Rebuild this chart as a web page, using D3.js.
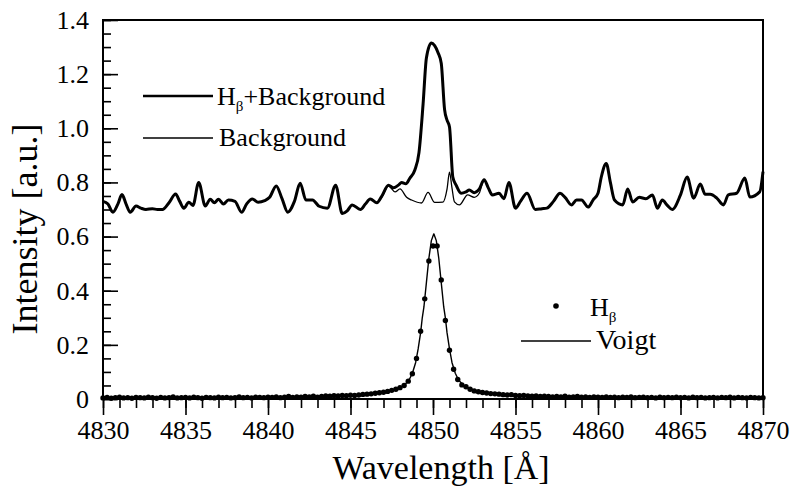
<!DOCTYPE html>
<html>
<head>
<meta charset="utf-8">
<script src="https://cdn.jsdelivr.net/npm/d3@7"></script>
<style>
    body { margin: 0; background: #fff; }
    svg text { font-family: "Liberation Serif", "Times New Roman", Times, "DejaVu Serif", serif; fill: #000; }
    .line { fill: none; stroke: #000; stroke-linejoin: round; }
</style>
</head>
<body>
<svg width="794" height="493"></svg>
<script>
    // background spectrum [wavelength, intensity]
    var background = [
        [4830.0,0.73],[4830.3,0.72],[4830.6,0.69],[4830.9,0.72],[4831.15,0.755],[4831.4,0.72],
        [4831.65,0.69],[4832.0,0.713],[4832.3,0.705],[4832.6,0.70],[4833.0,0.703],[4833.3,0.70],
        [4833.6,0.70],[4834.0,0.725],[4834.4,0.757],[4834.65,0.73],[4834.9,0.705],[4835.2,0.727],
        [4835.45,0.715],[4835.8,0.80],[4836.2,0.713],[4836.5,0.738],[4836.75,0.725],[4837.0,0.738],
        [4837.3,0.72],[4837.6,0.735],[4838.0,0.73],[4838.4,0.69],[4838.7,0.72],[4839.05,0.739],
        [4839.4,0.727],[4839.8,0.733],[4840.1,0.745],[4840.5,0.787],[4840.85,0.74],[4841.2,0.69],
        [4841.6,0.73],[4841.95,0.797],[4842.3,0.735],[4842.7,0.735],[4843.1,0.712],[4843.6,0.705],
        [4844.1,0.79],[4844.5,0.685],[4844.8,0.695],[4845.1,0.717],[4845.6,0.70],[4845.9,0.72],
        [4846.2,0.739],[4846.6,0.725],[4846.9,0.745],[4847.3,0.787],[4847.7,0.765],[4848.0,0.776],
        [4848.4,0.745],[4848.7,0.735],[4849.3,0.724],[4849.7,0.763],[4850.1,0.726],[4850.6,0.727],
        [4850.85,0.775],[4851.0,0.838],[4851.15,0.78],[4851.3,0.728],[4851.6,0.717],[4852.1,0.754],
        [4852.5,0.745],[4852.8,0.76],[4853.1,0.81],[4853.35,0.78],[4853.6,0.754],[4854.0,0.76],
        [4854.3,0.74],[4854.6,0.80],[4855.0,0.705],[4855.3,0.73],[4855.7,0.76],[4856.2,0.70],
        [4856.6,0.703],[4856.9,0.705],[4857.3,0.73],[4857.7,0.76],[4858.0,0.745],[4858.4,0.717],
        [4858.7,0.735],[4859.0,0.735],[4859.4,0.709],[4859.7,0.735],[4860.0,0.76],[4860.2,0.82],
        [4860.5,0.87],[4860.75,0.80],[4861.0,0.735],[4861.5,0.717],[4861.8,0.776],[4862.1,0.728],
        [4862.5,0.745],[4862.9,0.74],[4863.3,0.754],[4863.6,0.705],[4863.9,0.735],[4864.2,0.715],
        [4864.5,0.70],[4865.0,0.754],[4865.4,0.82],[4865.8,0.742],[4866.2,0.794],[4866.5,0.756],
        [4866.8,0.756],[4867.2,0.742],[4867.6,0.717],[4867.9,0.754],[4868.4,0.76],[4868.9,0.816],
        [4869.2,0.746],[4869.8,0.765],[4870.0,0.84]
    ];

    // H-beta + background, where it differs from the background
    var hbPeak = [
        [4846.9,0.75],[4847.3,0.79],[4847.6,0.78],[4847.9,0.79],[4848.1,0.80],[4848.35,0.795],
        [4848.6,0.816],[4848.9,0.846],[4849.15,0.91],[4849.4,1.09],[4849.6,1.26],[4849.9,1.315],
        [4850.1,1.305],[4850.3,1.28],[4850.5,1.24],[4850.7,1.07],[4850.85,1.03],[4851.0,1.005],
        [4851.2,0.82],[4851.4,0.79],[4851.7,0.76],[4852.0,0.765],[4852.2,0.772],[4852.5,0.762],
        [4852.8,0.775]
    ];

    // H-beta points, one every 0.25 A from 4830
    var hbetaStart = 4830, hbetaStep = 0.25;
    var hbetaValues = [
        0.004,0.006,0.003,0.005,0.007,0.004,0.005,0.003,0.006,0.005,
        0.004,0.007,0.005,0.003,0.006,0.004,0.005,0.008,0.004,0.005,
        0.006,0.004,0.007,0.005,0.003,0.006,0.005,0.004,0.007,0.005,
        0.006,0.004,0.005,0.008,0.005,0.006,0.004,0.007,0.006,0.005,
        0.007,0.006,0.008,0.005,0.007,0.009,0.006,0.008,0.007,0.009,
        0.008,0.010,0.007,0.009,0.011,0.010,0.012,0.011,0.013,0.012,
        0.014,0.013,0.015,0.017,0.018,0.019,0.021,0.023,
        0.025,0.028,0.032,0.036,0.042,0.05,0.066,0.093,0.15,0.25,0.37,0.51,0.565,
        0.565,0.44,0.29,0.18,0.11,0.072,0.052,0.045,0.036,0.03,0.027,0.024,
        0.022,0.020,0.019,0.018,0.016,0.015,0.016,
        0.013,0.012,0.013,0.011,0.010,0.011,0.009,0.010,0.009,0.008,
        0.009,0.008,0.010,0.007,0.008,0.009,0.007,0.008,0.006,0.008,
        0.007,0.006,0.008,0.006,0.007,0.005,0.007,0.006,0.008,0.005,
        0.006,0.007,0.005,0.006,0.004,0.007,0.005,0.006,0.005,0.007,
        0.005,0.006,0.004,0.007,0.005,0.006,0.004,0.005,0.006,0.004,
        0.006,0.005,0.007,0.004,0.006,0.005,0.004,0.006,0.005,0.004,0.005
    ];

    // Voigt fit [wavelength, intensity]
    var voigt = [
        [4830,0.004],[4835,0.005],[4840,0.007],[4843,0.009],[4845,0.012],[4846,0.016],
        [4846.75,0.022],[4847.35,0.029],[4847.85,0.038],[4848.25,0.05],[4848.55,0.07],
        [4848.75,0.095],[4848.95,0.135],[4849.1,0.185],[4849.25,0.245],[4849.35,0.30],
        [4849.45,0.34],[4849.6,0.43],[4849.75,0.52],[4849.9,0.585],[4850.05,0.61],
        [4850.2,0.585],[4850.35,0.52],[4850.5,0.43],[4850.65,0.34],[4850.75,0.30],
        [4850.85,0.245],[4851.0,0.185],[4851.15,0.135],[4851.35,0.095],[4851.55,0.07],
        [4851.85,0.05],[4852.25,0.038],[4852.75,0.029],[4853.35,0.022],[4854.05,0.016],
        [4855.05,0.012],[4857.05,0.009],[4860,0.007],[4865,0.005],[4870,0.004]
    ];

    var xTicks = [4830, 4835, 4840, 4845, 4850, 4855, 4860, 4865, 4870];
    var yTicks = [0, 0.2, 0.4, 0.6, 0.8, 1.0, 1.2, 1.4];

    var serif = "'Liberation Serif', 'Times New Roman', Times, 'DejaVu Serif', serif";

    var svg = d3.select("svg"),
        margin = {left: 103, right: 31, top: 20, bottom: 94},
        width = +svg.attr("width") - margin.left - margin.right,
        height = +svg.attr("height") - margin.top - margin.bottom;

    var x = d3.scaleLinear().domain([4830, 4870]).range([0, width]),
        y = d3.scaleLinear().domain([0, 1.4]).range([height, 0]);

    var g = svg.append("g")
        .attr("transform", "translate(" + margin.left + "," + margin.top + ")");

    // minor ticks
    g.append("g")
        .attr("transform", "translate(0," + height + ")")
        .call(d3.axisBottom(x).tickValues(d3.range(4830, 4871, 1)).tickSize(9).tickFormat(""))
        .call(function(a) { a.select(".domain").remove(); });
    g.append("g")
        .call(d3.axisLeft(y).tickValues(d3.range(0, 1.41, 0.05)).tickSize(-8).tickFormat(""))
        .call(function(a) { a.select(".domain").remove(); });

    // major ticks + labels
    g.append("g")
        .attr("transform", "translate(0," + height + ")")
        .call(d3.axisBottom(x).tickValues(xTicks).tickSize(16).tickPadding(6).tickFormat(d3.format("d")))
        .call(function(a) { a.select(".domain").remove(); });
    g.append("g")
        .call(d3.axisLeft(y).tickValues(yTicks).tickSize(-15).tickPadding(14)
            .tickFormat(function(d) { return d === 0 ? "0" : d3.format(".1f")(d); }))
        .call(function(a) { a.select(".domain").remove(); });

    g.selectAll(".tick line").attr("stroke", "#000").attr("stroke-width", 1.6);
    g.selectAll("g").attr("font-family", serif);
    g.selectAll(".tick text")
        .style("font-family", serif)
        .attr("font-size", 26)
        .attr("fill", "#000");

    // frame
    g.append("rect")
        .attr("width", width)
        .attr("height", height)
        .attr("fill", "none")
        .attr("stroke", "#000")
        .attr("stroke-width", 2);

    var smooth = d3.line()
        .curve(d3.curveMonotoneX)
        .x(function(d) { return x(d[0]); })
        .y(function(d) { return y(d[1]); });

    var straight = d3.line()
        .x(function(d) { return x(d[0]); })
        .y(function(d) { return y(d[1]); });

    var hbBg = background.filter(function(d) { return d[0] < 4846.9; })
        .concat(hbPeak)
        .concat(background.filter(function(d) { return d[0] > 4852.9; }));

    g.append("path").datum(background)
        .attr("class", "line")
        .attr("stroke-width", 1.3)
        .attr("d", smooth);

    g.append("path").datum(hbBg)
        .attr("class", "line")
        .attr("stroke-width", 3)
        .attr("d", smooth);

    g.append("path").datum(voigt)
        .attr("class", "line")
        .attr("stroke-width", 1.4)
        .attr("d", straight);

    g.selectAll(".dot")
        .data(hbetaValues)
        .enter().append("circle")
        .attr("class", "dot")
        .attr("cx", function(d, i) { return x(hbetaStart + i * hbetaStep); })
        .attr("cy", function(d) { return y(d); })
        .attr("r", 2.7)
        .attr("fill", "#000");

    // legends
    function hbetaLabel(t, xx, yy, rest) {
        var txt = t.append("text")
            .attr("x", xx)
            .attr("y", yy)
            .style("font-family", serif)
            .attr("font-size", 26);
        txt.append("tspan").text("H");
        txt.append("tspan").attr("font-size", 15).attr("dy", 6).text("β");
        if (rest) txt.append("tspan").attr("dy", -6).text(rest);
    }

    svg.append("line")
        .attr("x1", 143).attr("x2", 213).attr("y1", 96).attr("y2", 96)
        .attr("stroke", "#000").attr("stroke-width", 2.4);
    hbetaLabel(svg, 217, 105, "+Background");

    svg.append("line")
        .attr("x1", 143).attr("x2", 213).attr("y1", 138).attr("y2", 138)
        .attr("stroke", "#000").attr("stroke-width", 1.3);
    svg.append("text")
        .attr("x", 219).attr("y", 146)
        .style("font-family", serif)
        .attr("font-size", 26)
        .text("Background");

    svg.append("circle")
        .attr("cx", 556).attr("cy", 306).attr("r", 2.8).attr("fill", "#000");
    hbetaLabel(svg, 590, 316, null);

    svg.append("line")
        .attr("x1", 521).attr("x2", 591).attr("y1", 341).attr("y2", 341)
        .attr("stroke", "#000").attr("stroke-width", 1.4);
    svg.append("text")
        .attr("x", 596).attr("y", 349)
        .style("font-family", serif)
        .attr("font-size", 28)
        .text("Voigt");

    // axis titles
    svg.append("text")
        .attr("x", 441)
        .attr("y", 479)
        .attr("text-anchor", "middle")
        .style("font-family", serif)
        .attr("font-size", 34)
        .text("Wavelength [Å]");

    svg.append("text")
        .attr("transform", "translate(37,229) rotate(-90)")
        .attr("text-anchor", "middle")
        .style("font-family", serif)
        .attr("font-size", 36)
        .text("Intensity [a.u.]");
</script>
</body>
</html>
